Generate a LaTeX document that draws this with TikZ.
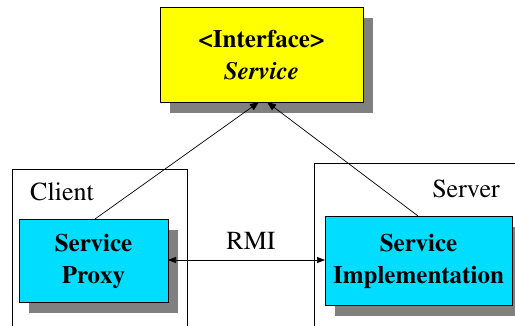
\documentclass[tikz,border=0pt]{standalone}
\usepackage[T1]{fontenc}
\renewcommand{\rmdefault}{ptm}
\usetikzlibrary{shadows,arrows.meta}
\definecolor{ifyellow}{RGB}{255,255,0}
\definecolor{boxcyan}{RGB}{0,221,255}
\definecolor{shadowgray}{RGB}{128,128,128}
\tikzset{
  x=1pt, y=-1pt,
  shadowed/.style={draw=black, line width=1pt, align=center, inner sep=0pt,
    font=\rmfamily\fontsize{25}{32}\selectfont\bfseries,
    drop shadow={shadow xshift=10pt, shadow yshift=-10pt, fill=shadowgray, opacity=1}},
  frame/.style={draw=black, line width=0.8pt, fill=white},
  lbl/.style={font=\rmfamily\fontsize{26}{31}\selectfont, inner sep=0pt},
  link/.style={line width=0.7pt, -{Triangle[length=9pt,width=7pt]}},
}
\begin{document}
\begin{tikzpicture}
\clip (0,0) rectangle (515,325);
\fill[white] (0,0) rectangle (515,325);

% deployment frames
\draw[frame] (12,169) rectangle (187,340);
\draw[frame] (314,163) rectangle (530,340);
\node[lbl] (client) at (62,192) {Client};
\node[lbl] (server) at (466,189) {Server};

% boxes
\node[shadowed, fill=ifyellow, minimum width=203pt, minimum height=95pt]
  (iface) at (261.5,55) {\textless Interface\textgreater\\\textit{Service}};
\node[shadowed, fill=boxcyan, minimum width=149pt, minimum height=83pt]
  (proxy) at (93.5,261) {Service\\Proxy};
\node[shadowed, fill=boxcyan, minimum width=187pt, minimum height=89pt]
  (impl) at (418.5,261) {Service\\Implementation};

% connectors
\coordinate (pt) at (95,219);
\coordinate (it) at (418,216);
\coordinate (ia) at (259,102);
\coordinate (ib) at (267,102);
\draw[link] (pt) -- (ia);
\draw[link] (it) -- (ib);
\coordinate (pr) at (168,260);
\coordinate (il) at (325,260);
\draw[line width=0.7pt, {Triangle[length=8pt,width=6pt]}-{Triangle[length=8pt,width=6pt]}] (pr) -- (il);
\node[lbl] (rmi) at (251,241) {RMI};
\end{tikzpicture}
\end{document}
